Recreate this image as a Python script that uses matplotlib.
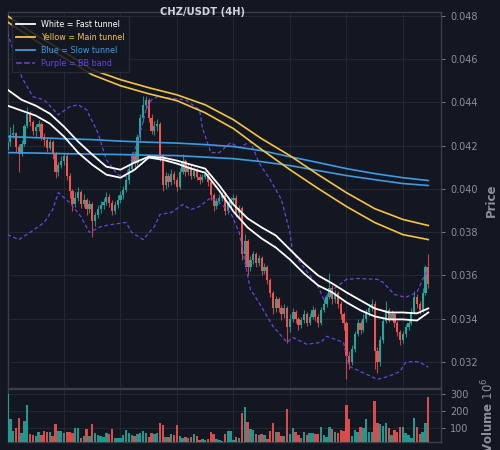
import numpy as np
import matplotlib.pyplot as plt
from matplotlib.lines import Line2D
from matplotlib.ticker import MultipleLocator

# ---- data: CHZ/USDT 4H candles (prices in USDT, volume in millions) ----
opens = [
    0.04180, 0.04215, 0.04250, 0.04258, 0.04195, 0.04160, 0.04210, 0.04290, 0.04345, 0.04310,
    0.04270, 0.04285, 0.04300, 0.04240, 0.04225, 0.04190, 0.04215, 0.04160, 0.04080, 0.04110,
    0.04130, 0.04150, 0.04060, 0.03990, 0.03930, 0.03960, 0.03985, 0.03930, 0.03950, 0.03905,
    0.03930, 0.03850, 0.03880, 0.03905, 0.03925, 0.03940, 0.03965, 0.03935, 0.03900, 0.03925,
    0.03950, 0.03970, 0.03995, 0.04040, 0.04090, 0.04150, 0.04120, 0.04240, 0.04330, 0.04390,
    0.04410, 0.04330, 0.04270, 0.04290, 0.04300, 0.04150, 0.04020, 0.04060, 0.04030, 0.04070,
    0.04040, 0.04010, 0.04080, 0.04130, 0.04080, 0.04100, 0.04060, 0.04085, 0.04055, 0.04040,
    0.04055, 0.04070, 0.04030, 0.03970, 0.03920, 0.03945, 0.03960, 0.03970, 0.03900, 0.03930,
    0.03950, 0.03960, 0.03890, 0.03910, 0.03700, 0.03760, 0.03640, 0.03670, 0.03700, 0.03660,
    0.03680, 0.03620, 0.03640, 0.03580, 0.03520, 0.03450, 0.03490, 0.03450, 0.03420, 0.03450,
    0.03360, 0.03400, 0.03430, 0.03400, 0.03370, 0.03395, 0.03420, 0.03380, 0.03410, 0.03440,
    0.03410, 0.03380, 0.03440, 0.03470, 0.03500, 0.03540, 0.03490, 0.03520, 0.03470, 0.03420,
    0.03380, 0.03230, 0.03200, 0.03260, 0.03330, 0.03380, 0.03350, 0.03400, 0.03430, 0.03450,
    0.03470, 0.03250, 0.03200, 0.03300, 0.03390, 0.03440, 0.03400, 0.03420, 0.03380, 0.03340,
    0.03300, 0.03330, 0.03360, 0.03380, 0.03430, 0.03500, 0.03470, 0.03440, 0.03520, 0.03640,
]
highs = [
    0.04240, 0.04285, 0.04300, 0.04265, 0.04210, 0.04225, 0.04300, 0.04380, 0.04360, 0.04320,
    0.04300, 0.04320, 0.04310, 0.04260, 0.04240, 0.04230, 0.04225, 0.04170, 0.04125, 0.04150,
    0.04165, 0.04160, 0.04075, 0.04000, 0.03985, 0.04010, 0.03995, 0.03975, 0.03960, 0.03950,
    0.03940, 0.03895, 0.03925, 0.03945, 0.03960, 0.03985, 0.03975, 0.03950, 0.03945, 0.03970,
    0.03990, 0.04015, 0.04055, 0.04105, 0.04170, 0.04175, 0.04255, 0.04345, 0.04430, 0.04430,
    0.04420, 0.04345, 0.04315, 0.04325, 0.04310, 0.04160, 0.04080, 0.04075, 0.04090, 0.04085,
    0.04055, 0.04095, 0.04160, 0.04140, 0.04115, 0.04110, 0.04100, 0.04095, 0.04070, 0.04070,
    0.04085, 0.04080, 0.04040, 0.03980, 0.03960, 0.03975, 0.03985, 0.03980, 0.03945, 0.03965,
    0.03975, 0.03970, 0.03925, 0.03920, 0.03790, 0.03770, 0.03690, 0.03715, 0.03710, 0.03695,
    0.03690, 0.03660, 0.03650, 0.03590, 0.03530, 0.03505, 0.03500, 0.03465, 0.03470, 0.03460,
    0.03420, 0.03450, 0.03440, 0.03410, 0.03410, 0.03440, 0.03430, 0.03425, 0.03460, 0.03450,
    0.03420, 0.03455, 0.03490, 0.03520, 0.03610, 0.03555, 0.03535, 0.03530, 0.03480, 0.03430,
    0.03390, 0.03250, 0.03280, 0.03345, 0.03400, 0.03395, 0.03420, 0.03445, 0.03470, 0.03490,
    0.03480, 0.03270, 0.03320, 0.03410, 0.03480, 0.03450, 0.03440, 0.03430, 0.03390, 0.03350,
    0.03345, 0.03375, 0.03400, 0.03450, 0.03530, 0.03515, 0.03480, 0.03540, 0.03650, 0.03700,
]
lows = [
    0.04170, 0.04200, 0.04235, 0.04170, 0.04080, 0.04150, 0.04200, 0.04280, 0.04290, 0.04250,
    0.04240, 0.04270, 0.04225, 0.04200, 0.04170, 0.04180, 0.04140, 0.04050, 0.04060, 0.04095,
    0.04110, 0.04040, 0.03960, 0.03900, 0.03915, 0.03945, 0.03910, 0.03915, 0.03880, 0.03890,
    0.03780, 0.03830, 0.03865, 0.03890, 0.03905, 0.03925, 0.03915, 0.03880, 0.03885, 0.03910,
    0.03935, 0.03955, 0.03985, 0.04025, 0.04080, 0.04100, 0.04110, 0.04225, 0.04310, 0.04370,
    0.04310, 0.04255, 0.04250, 0.04270, 0.04130, 0.03990, 0.04000, 0.04010, 0.04020, 0.04025,
    0.03990, 0.04000, 0.04070, 0.04060, 0.04065, 0.04045, 0.04050, 0.04040, 0.04025, 0.04030,
    0.04045, 0.04015, 0.03950, 0.03900, 0.03905, 0.03930, 0.03945, 0.03880, 0.03885, 0.03915,
    0.03935, 0.03870, 0.03860, 0.03670, 0.03640, 0.03600, 0.03620, 0.03655, 0.03640, 0.03645,
    0.03600, 0.03605, 0.03560, 0.03500, 0.03420, 0.03430, 0.03430, 0.03395, 0.03405, 0.03290,
    0.03340, 0.03385, 0.03380, 0.03350, 0.03355, 0.03380, 0.03365, 0.03370, 0.03400, 0.03390,
    0.03360, 0.03370, 0.03430, 0.03455, 0.03490, 0.03470, 0.03475, 0.03450, 0.03400, 0.03350,
    0.03120, 0.03170, 0.03185, 0.03245, 0.03320, 0.03330, 0.03340, 0.03385, 0.03415, 0.03435,
    0.03170, 0.03150, 0.03180, 0.03290, 0.03380, 0.03385, 0.03395, 0.03360, 0.03320, 0.03280,
    0.03290, 0.03315, 0.03350, 0.03370, 0.03420, 0.03450, 0.03420, 0.03430, 0.03510, 0.03540,
]
closes = [
    0.04215, 0.04250, 0.04258, 0.04195, 0.04160, 0.04210, 0.04290, 0.04345, 0.04310, 0.04270,
    0.04285, 0.04300, 0.04240, 0.04225, 0.04190, 0.04215, 0.04160, 0.04080, 0.04110, 0.04130,
    0.04150, 0.04060, 0.03990, 0.03930, 0.03960, 0.03985, 0.03930, 0.03950, 0.03905, 0.03930,
    0.03850, 0.03880, 0.03905, 0.03925, 0.03940, 0.03965, 0.03935, 0.03900, 0.03925, 0.03950,
    0.03970, 0.03995, 0.04040, 0.04090, 0.04150, 0.04120, 0.04240, 0.04330, 0.04390, 0.04410,
    0.04330, 0.04270, 0.04290, 0.04300, 0.04150, 0.04020, 0.04060, 0.04030, 0.04070, 0.04040,
    0.04010, 0.04080, 0.04130, 0.04080, 0.04100, 0.04060, 0.04085, 0.04055, 0.04040, 0.04055,
    0.04070, 0.04030, 0.03970, 0.03920, 0.03945, 0.03960, 0.03970, 0.03900, 0.03930, 0.03950,
    0.03960, 0.03890, 0.03910, 0.03700, 0.03760, 0.03640, 0.03670, 0.03700, 0.03660, 0.03680,
    0.03620, 0.03640, 0.03580, 0.03520, 0.03450, 0.03490, 0.03450, 0.03420, 0.03450, 0.03360,
    0.03400, 0.03430, 0.03400, 0.03370, 0.03395, 0.03420, 0.03380, 0.03410, 0.03440, 0.03410,
    0.03380, 0.03440, 0.03470, 0.03500, 0.03540, 0.03490, 0.03520, 0.03470, 0.03420, 0.03380,
    0.03230, 0.03200, 0.03260, 0.03330, 0.03380, 0.03350, 0.03400, 0.03430, 0.03450, 0.03470,
    0.03250, 0.03200, 0.03300, 0.03390, 0.03440, 0.03400, 0.03420, 0.03380, 0.03340, 0.03300,
    0.03330, 0.03360, 0.03380, 0.03430, 0.03500, 0.03470, 0.03440, 0.03520, 0.03640, 0.03560,
]
volumes = [
    302, 150, 82, 96, 160, 66, 140, 234, 62, 56,
    50, 76, 56, 82, 76, 72, 50, 120, 82, 82,
    66, 76, 76, 70, 96, 96, 36, 50, 92, 50,
    120, 66, 56, 50, 46, 70, 62, 94, 36, 36,
    36, 56, 86, 66, 56, 50, 62, 70, 80, 66,
    46, 70, 62, 66, 126, 116, 46, 46, 62, 56,
    116, 50, 36, 42, 36, 46, 62, 50, 26, 30,
    26, 30, 72, 62, 30, 26, 22, 62, 80, 80,
    26, 46, 36, 190, 225, 136, 90, 86, 62, 56,
    62, 56, 30, 82, 126, 72, 72, 50, 50, 210,
    62, 96, 72, 56, 36, 76, 56, 66, 66, 60,
    62, 102, 56, 42, 106, 90, 76, 66, 86, 82,
    236, 150, 50, 86, 76, 102, 96, 150, 76, 76,
    262, 130, 120, 112, 126, 96, 56, 86, 72, 106,
    102, 70, 56, 36, 156, 102, 62, 76, 130, 282,
]

# fast tunnel (white), read every 5 candles
fast_idx = list(range(0, 150, 5)) + [149]
fast_upper = [0.04459, 0.04412, 0.04385, 0.04348, 0.04288, 0.04219, 0.04159, 0.04103, 0.04089, 0.04122,
              0.04149, 0.04145, 0.04131, 0.04112, 0.04094, 0.04016, 0.03928, 0.03864, 0.03822, 0.03785,
              0.03720, 0.03656, 0.03600, 0.03563, 0.03522, 0.03485, 0.03448, 0.03429, 0.03429, 0.03425,
              0.03448]
fast_lower = [0.04385, 0.04362, 0.04339, 0.04302, 0.04242, 0.04168, 0.04112, 0.04066, 0.04052, 0.04089,
              0.04145, 0.04135, 0.04117, 0.04094, 0.04075, 0.03992, 0.03896, 0.03822, 0.03771, 0.03729,
              0.03674, 0.03609, 0.03554, 0.03522, 0.03476, 0.03439, 0.03411, 0.03397, 0.03397, 0.03392,
              0.03429]

# main (yellow) and slow (blue) tunnels, read every 10 candles
tunnel_idx = list(range(0, 150, 10)) + [149]
main_upper = [0.04800, 0.04712, 0.04634, 0.04551, 0.04505, 0.04468, 0.04435, 0.04389,
              0.04320, 0.04232, 0.04154, 0.04066, 0.03983, 0.03909, 0.03859, 0.03831]
main_lower = [0.04772, 0.04685, 0.04606, 0.04528, 0.04477, 0.04440, 0.04408, 0.04352,
              0.04279, 0.04182, 0.04089, 0.04002, 0.03919, 0.03845, 0.03789, 0.03766]
slow_upper = [0.04242, 0.04237, 0.04232, 0.04228, 0.04221, 0.04216, 0.04212, 0.04205,
              0.04196, 0.04177, 0.04149, 0.04122, 0.04094, 0.04071, 0.04052, 0.04039]
slow_lower = [0.04168, 0.04166, 0.04163, 0.04161, 0.04159, 0.04156, 0.04154, 0.04147,
              0.04140, 0.04126, 0.04108, 0.04085, 0.04062, 0.04043, 0.04025, 0.04016]

# Bollinger band (purple dashed)
bb_up_idx = [0, 5, 9, 13, 18, 22, 25, 28, 32, 35, 39, 42, 47, 49, 51, 53, 63, 68, 69, 72,
             75, 79, 82, 86, 89, 93, 97, 100, 101, 110, 112, 114, 120, 124, 131, 133, 137, 141,
             145, 147, 149]
bb_upper = [0.04722, 0.04518, 0.04426, 0.04412, 0.04343, 0.04380, 0.04389, 0.04366, 0.04260, 0.04135,
            0.04066, 0.04057, 0.04260, 0.04366, 0.04412, 0.04426, 0.04412, 0.04366, 0.04283, 0.04168,
            0.04168, 0.04214, 0.04191, 0.04219, 0.04122, 0.04043, 0.03951, 0.03799, 0.03706, 0.03549,
            0.03489, 0.03522, 0.03582, 0.03586, 0.03582, 0.03568, 0.03512, 0.03499, 0.03522, 0.03582,
            0.03628]
bb_lo_idx = [0, 4, 8, 13, 16, 18, 22, 26, 29, 33, 37, 42, 44, 48, 52, 54, 58, 62, 65, 68,
             72, 75, 79, 82, 84, 86, 89, 94, 99, 101, 106, 111, 113, 119, 120, 121, 131, 135, 139,
             141, 144, 146, 149]
bb_lower = [0.03789, 0.03766, 0.03799, 0.03845, 0.03905, 0.03983, 0.03937, 0.03872, 0.03799, 0.03826,
            0.03836, 0.03845, 0.03799, 0.03766, 0.03826, 0.03882, 0.03891, 0.03928, 0.03905, 0.03919,
            0.03960, 0.03937, 0.03891, 0.03800, 0.03670, 0.03536, 0.03476, 0.03365, 0.03291, 0.03314,
            0.03282, 0.03291, 0.03319, 0.03291, 0.03226, 0.03180, 0.03120, 0.03134, 0.03157, 0.03199,
            0.03203, 0.03199, 0.03176]

# ---- style ----
BG = '#131722'
GRID = '#242833'
SPINE = '#3a3e49'
TICK = '#8b909b'
UP = '#26a69a'
DOWN = '#ef5350'
WHITE = '#ffffff'
YELLOW = '#f6c443'
BLUE = '#3d9be3'
PURPLE = '#6a45d9'

fig = plt.figure(figsize=(5, 4.5), dpi=100, facecolor=BG)
ax = fig.add_axes([0.015, 0.1378, 0.867, 0.8356], facecolor=BG)
axv = fig.add_axes([0.015, 0.0178, 0.867, 0.1178], facecolor=BG, sharex=ax)

o = np.array(opens)
h = np.array(highs)
l = np.array(lows)
c = np.array(closes)
x = np.arange(len(c))
colors = np.where(c >= o, UP, DOWN)

# candles
ax.vlines(x, l, h, colors=colors, lw=0.8, alpha=0.8, zorder=2)
ax.bar(x, np.abs(c - o), bottom=np.minimum(o, c), width=0.8, color=colors, zorder=3)

# indicators
dash = (0, (3, 2))
ax.plot(bb_up_idx, bb_upper, color=PURPLE, lw=0.9, ls=dash, zorder=4)
ax.plot(bb_lo_idx, bb_lower, color=PURPLE, lw=0.9, ls=dash, zorder=4)
ax.plot(tunnel_idx, slow_upper, color=BLUE, lw=1.2, zorder=5)
ax.plot(tunnel_idx, slow_lower, color=BLUE, lw=1.2, zorder=5)
ax.plot(tunnel_idx, main_upper, color=YELLOW, lw=1.2, zorder=5)
ax.plot(tunnel_idx, main_lower, color=YELLOW, lw=1.2, zorder=5)
ax.plot(fast_idx, fast_upper, color=WHITE, lw=1.3, zorder=6)
ax.plot(fast_idx, fast_lower, color=WHITE, lw=1.3, zorder=6)

# volume
axv.bar(x, volumes, width=0.85, color=colors, alpha=0.9, zorder=3)

ax.set_xlim(0, 153.5)
ax.set_ylim(0.0308, 0.04818)
axv.set_ylim(14, 332)

for a in (ax, axv):
    a.set_xticks(range(0, 150, 20))
    a.tick_params(axis='x', length=0, labelbottom=False)
    a.yaxis.tick_right()
    a.yaxis.set_label_position('right')
    a.tick_params(axis='y', colors=TICK, labelsize=7, length=3, width=0.6)
    a.grid(True, color=GRID, lw=0.7, zorder=0)
    a.set_axisbelow(True)
    for s in a.spines.values():
        s.set_color(SPINE)
        s.set_linewidth(1.0)

ax.yaxis.set_major_locator(MultipleLocator(0.002))
axv.set_yticks([100, 200, 300])

ax.set_ylabel('Price', color=TICK, fontsize=8.5, fontweight='bold', labelpad=5)
axv.set_ylabel('Volume $10^6$', color=TICK, fontsize=8.5, fontweight='bold', labelpad=8)

fig.text(0.406, 0.973, 'CHZ/USDT (4H)', ha='center', va='center',
         fontsize=7.2, fontweight='bold', color='#d1d4dc')

handles = [
    Line2D([], [], color=WHITE, lw=1.3),
    Line2D([], [], color=YELLOW, lw=1.3),
    Line2D([], [], color=BLUE, lw=1.3),
    Line2D([], [], color=PURPLE, lw=1.1, ls='--'),
]
labels = ['White = Fast tunnel', 'Yellow = Main tunnel', 'Blue = Slow tunnel', 'Purple = BB band']
leg = ax.legend(handles, labels, loc='upper left', fontsize=5.8, frameon=True,
                facecolor=BG, edgecolor='#2a2e39', framealpha=0.85,
                handlelength=2.4, borderpad=0.5, labelspacing=0.5)
for txt, col in zip(leg.get_texts(), [WHITE, YELLOW, BLUE, PURPLE]):
    txt.set_color(col)

fig.savefig('out.png', dpi=100, facecolor=BG)
